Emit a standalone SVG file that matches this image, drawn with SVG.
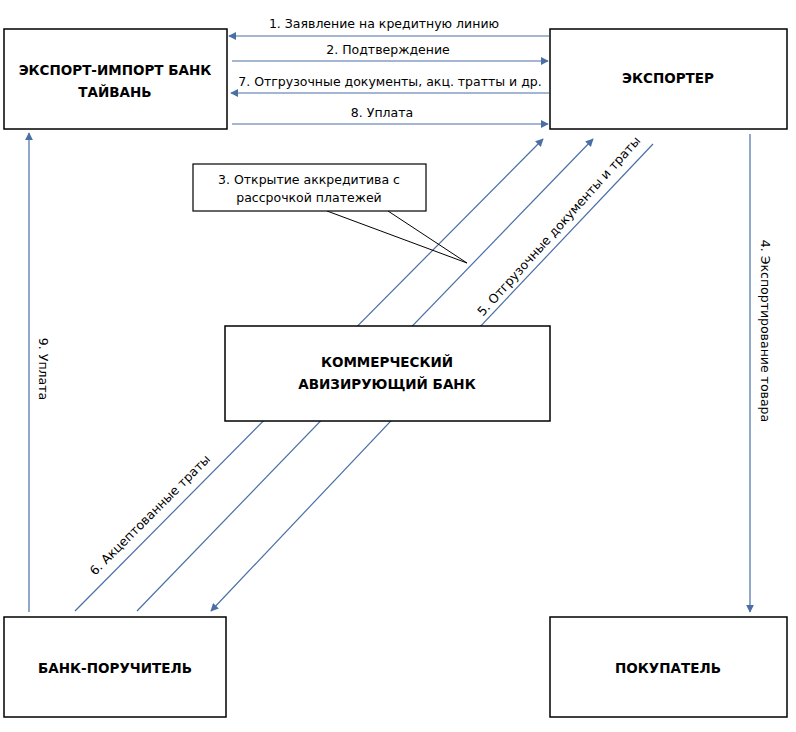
<svg xmlns="http://www.w3.org/2000/svg" width="796" height="732" viewBox="0 0 796 732">
<defs>
<marker id="ah" viewBox="0 0 10 10" refX="9" refY="5" markerWidth="8" markerHeight="8" markerUnits="userSpaceOnUse" orient="auto">
<path d="M0,0 L10,5 L0,10 z" fill="#4a6fa5"/>
</marker>
<style>
.box{fill:#fff;stroke:#000;stroke-width:1.5}
.nt{font-family:"DejaVu Sans","Liberation Sans",sans-serif;font-size:13.5px;font-weight:bold;text-anchor:middle;fill:#000}
.lb{font-family:"DejaVu Sans","Liberation Sans",sans-serif;font-size:12.5px;text-anchor:middle;fill:#000}
.ln{stroke:#4a6fa5;stroke-width:1.2;fill:none}
.cl{stroke:#000;stroke-width:1;fill:none}
</style>
</defs>
<rect width="796" height="732" fill="#fff"/>
<g id="connectors">
<line class="ln" x1="549" y1="36" x2="229" y2="36" marker-end="url(#ah)"/>
<line class="ln" x1="232" y1="61" x2="548" y2="61" marker-end="url(#ah)"/>
<line class="ln" x1="549" y1="93" x2="231" y2="93" marker-end="url(#ah)"/>
<line class="ln" x1="232" y1="124" x2="548" y2="124" marker-end="url(#ah)"/>
<line class="ln" x1="29" y1="612" x2="29" y2="133" marker-end="url(#ah)"/>
<line class="ln" x1="750" y1="134" x2="750" y2="612" marker-end="url(#ah)"/>
<line class="ln" x1="75" y1="611" x2="543" y2="139" marker-end="url(#ah)"/>
<line class="ln" x1="137" y1="611" x2="593" y2="139" marker-end="url(#ah)"/>
<line class="ln" x1="653" y1="144" x2="211" y2="611" marker-end="url(#ah)"/>
<text class="lb" x="384" y="28">1. Заявление на кредитную линию</text>
<text class="lb" x="388" y="54">2. Подтверждение</text>
<text class="lb" x="390" y="86">7.  Отгрузочные документы, акц. тратты и др.</text>
<text class="lb" x="382" y="117">8. Уплата</text>
<text class="lb" transform="translate(39,369) rotate(90)">9. Уплата</text>
<text class="lb" transform="translate(761,331) rotate(90)">4. Экспортирование товара</text>
<text class="lb" transform="translate(562,229) rotate(-48)">5. Отгрузочные документы и траты</text>
<text class="lb" transform="translate(153,518) rotate(-45)">6. Акцептованные траты</text>
</g>
<g id="callout">
<polyline class="cl" points="327,211 467,263 388,211"/>
<rect class="box" x="193" y="164" width="233" height="47" style="stroke-width:1.2"/>
<text class="lb" x="309" y="184">3. Открытие аккредитива с</text>
<text class="lb" x="309" y="202">рассрочкой платежей</text>
</g>
<g id="eximbank">
<rect class="box" x="4" y="29" width="223" height="100"/>
<text class="nt" x="115" y="75">ЭКСПОРТ-ИМПОРТ БАНК</text>
<text class="nt" x="115" y="97">ТАЙВАНЬ</text>
</g>
<g id="exporter">
<rect class="box" x="550" y="29" width="237" height="100"/>
<text class="nt" x="668" y="83">ЭКСПОРТЕР</text>
</g>
<g id="advising">
<rect class="box" x="225" y="326" width="325" height="95"/>
<text class="nt" x="387" y="367">КОММЕРЧЕСКИЙ</text>
<text class="nt" x="387" y="389">АВИЗИРУЮЩИЙ БАНК</text>
</g>
<g id="guarantor">
<rect class="box" x="4" y="617" width="222" height="100"/>
<text class="nt" x="115" y="673">БАНК-ПОРУЧИТЕЛЬ</text>
</g>
<g id="buyer">
<rect class="box" x="550" y="617" width="237" height="100"/>
<text class="nt" x="668" y="673">ПОКУПАТЕЛЬ</text>
</g>
</svg>
